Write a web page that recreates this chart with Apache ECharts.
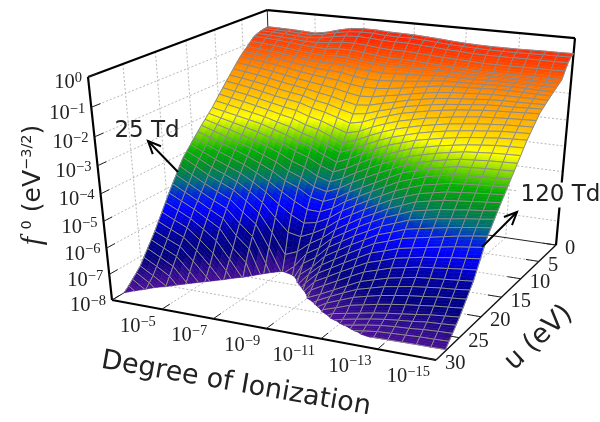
<!DOCTYPE html>
<html>
<head>
<meta charset="utf-8">
<style>html,body{margin:0;padding:0;background:#fff}#main{width:600px;height:422px}</style>
<script src="https://cdn.jsdelivr.net/npm/echarts@6/dist/echarts.min.js"></script>
</head>
<body>
<div id="main"></div>
<script>
// log10 of degree of ionization, one per mesh column
var ionExp = [-3,-3.5,-4,-4.5,-5,-5.5,-6,-6.5,-7,-7.5,-8,-8.5,-9,-9.5,-10,-10.5,-11,-11.5,-12,-12.5,-13,-13.5,-14,-14.5,-15];
// u in eV, one per mesh row
var uVals = [0,.7,1.4,2.1,2.8,3.5,4.2,4.9,5.6,6.3,7,7.7,8.4,9.1,9.8,10.5,11.2,11.9,12.6,13.3,14,14.7,15.4,16.1,16.8,17.5,18.2,18.9,19.6,20.3,21,21.7,22.4,23.1,23.8,24.5,25.2,25.9,26.6,27.3,28];
// log10 f0, row = u, column = ionization (below -8 is cut by the floor)
var logF = [
[-.64,-.65,-.66,-.68,-.71,-.63,-.50,-.40,-.37,-.37,-.40,-.41,-.42,-.45,-.48,-.52,-.55,-.57,-.58,-.58,-.58,-.57,-.56,-.56,-.55],
[-.66,-.67,-.68,-.70,-.72,-.66,-.55,-.47,-.44,-.44,-.48,-.49,-.49,-.52,-.55,-.59,-.61,-.63,-.65,-.65,-.65,-.64,-.63,-.63,-.62],
[-.69,-.70,-.72,-.75,-.78,-.74,-.65,-.58,-.55,-.57,-.61,-.62,-.62,-.65,-.68,-.72,-.74,-.77,-.78,-.78,-.78,-.77,-.77,-.77,-.76],
[-.74,-.76,-.78,-.82,-.86,-.86,-.82,-.76,-.75,-.78,-.83,-.86,-.86,-.89,-.92,-.95,-.97,-.99,-1.02,-1.02,-1.02,-1.01,-1.01,-1.01,-1.00],
[-.80,-.82,-.85,-.90,-.95,-.98,-1.00,-.95,-.95,-1.00,-1.05,-1.10,-1.10,-1.12,-1.15,-1.18,-1.20,-1.22,-1.25,-1.25,-1.25,-1.25,-1.25,-1.25,-1.25],
[-.94,-.96,-1.00,-1.05,-1.11,-1.15,-1.19,-1.16,-1.17,-1.24,-1.28,-1.32,-1.31,-1.31,-1.31,-1.31,-1.31,-1.32,-1.33,-1.33,-1.32,-1.32,-1.32,-1.33,-1.33],
[-1.08,-1.11,-1.15,-1.21,-1.28,-1.33,-1.38,-1.38,-1.40,-1.48,-1.52,-1.55,-1.52,-1.50,-1.48,-1.45,-1.42,-1.42,-1.42,-1.41,-1.40,-1.40,-1.40,-1.41,-1.41],
[-1.21,-1.25,-1.30,-1.36,-1.44,-1.50,-1.56,-1.59,-1.62,-1.71,-1.76,-1.77,-1.73,-1.69,-1.64,-1.58,-1.53,-1.52,-1.51,-1.50,-1.48,-1.48,-1.48,-1.49,-1.50],
[-1.35,-1.40,-1.45,-1.52,-1.60,-1.68,-1.75,-1.80,-1.85,-1.95,-2.00,-2.00,-1.95,-1.88,-1.80,-1.72,-1.65,-1.62,-1.60,-1.58,-1.55,-1.55,-1.56,-1.57,-1.58],
[-1.52,-1.58,-1.64,-1.71,-1.80,-1.88,-1.95,-2.02,-2.09,-2.20,-2.28,-2.25,-2.16,-2.08,-1.98,-1.89,-1.82,-1.77,-1.74,-1.71,-1.68,-1.67,-1.67,-1.67,-1.67],
[-1.70,-1.76,-1.83,-1.91,-2.00,-2.08,-2.15,-2.25,-2.33,-2.45,-2.55,-2.50,-2.38,-2.27,-2.15,-2.06,-1.98,-1.92,-1.88,-1.84,-1.80,-1.78,-1.78,-1.77,-1.76],
[-1.88,-1.94,-2.02,-2.10,-2.20,-2.28,-2.35,-2.48,-2.56,-2.70,-2.82,-2.75,-2.59,-2.46,-2.32,-2.23,-2.14,-2.07,-2.02,-1.97,-1.92,-1.90,-1.89,-1.87,-1.85],
[-2.05,-2.12,-2.20,-2.30,-2.40,-2.48,-2.55,-2.70,-2.80,-2.95,-3.10,-3.00,-2.80,-2.65,-2.50,-2.40,-2.30,-2.22,-2.15,-2.10,-2.05,-2.02,-2.00,-1.97,-1.95],
[-2.24,-2.32,-2.40,-2.50,-2.60,-2.70,-2.78,-2.95,-3.06,-3.24,-3.40,-3.28,-3.06,-2.88,-2.72,-2.61,-2.50,-2.42,-2.34,-2.28,-2.22,-2.19,-2.16,-2.14,-2.12],
[-2.42,-2.51,-2.60,-2.70,-2.80,-2.92,-3.02,-3.20,-3.32,-3.52,-3.70,-3.55,-3.32,-3.12,-2.95,-2.82,-2.70,-2.61,-2.52,-2.46,-2.40,-2.36,-2.32,-2.30,-2.28],
[-2.61,-2.70,-2.80,-2.90,-3.00,-3.14,-3.26,-3.45,-3.58,-3.81,-4.00,-3.82,-3.58,-3.36,-3.18,-3.04,-2.90,-2.80,-2.71,-2.64,-2.58,-2.53,-2.48,-2.46,-2.44],
[-2.80,-2.90,-3.00,-3.10,-3.20,-3.35,-3.50,-3.70,-3.85,-4.10,-4.30,-4.10,-3.85,-3.60,-3.40,-3.25,-3.10,-3.00,-2.90,-2.82,-2.75,-2.70,-2.65,-2.62,-2.60],
[-2.96,-3.08,-3.20,-3.32,-3.44,-3.60,-3.78,-4.00,-4.16,-4.42,-4.60,-4.40,-4.14,-3.89,-3.68,-3.50,-3.32,-3.21,-3.10,-3.02,-2.94,-2.89,-2.84,-2.82,-2.80],
[-3.12,-3.26,-3.40,-3.54,-3.68,-3.86,-4.05,-4.30,-4.48,-4.75,-4.90,-4.70,-4.42,-4.18,-3.95,-3.75,-3.55,-3.42,-3.30,-3.21,-3.12,-3.08,-3.04,-3.02,-3.00],
[-3.28,-3.44,-3.60,-3.76,-3.92,-4.12,-4.32,-4.60,-4.79,-5.08,-5.20,-5.00,-4.71,-4.46,-4.22,-4.00,-3.78,-3.64,-3.50,-3.40,-3.31,-3.28,-3.24,-3.22,-3.20],
[-3.45,-3.62,-3.80,-3.97,-4.15,-4.37,-4.60,-4.90,-5.10,-5.40,-5.50,-5.30,-5.00,-4.75,-4.50,-4.25,-4.00,-3.85,-3.70,-3.60,-3.50,-3.47,-3.44,-3.42,-3.40],
[-3.62,-3.82,-4.02,-4.21,-4.40,-4.65,-4.92,-5.25,-5.55,-5.80,-5.82,-5.60,-5.27,-5.01,-4.75,-4.50,-4.25,-4.08,-3.92,-3.82,-3.72,-3.69,-3.65,-3.63,-3.60],
[-3.80,-4.02,-4.25,-4.45,-4.65,-4.93,-5.25,-5.65,-6.00,-6.25,-6.15,-5.90,-5.55,-5.27,-5.00,-4.75,-4.50,-4.32,-4.15,-4.05,-3.95,-3.91,-3.87,-3.84,-3.80],
[-3.98,-4.22,-4.48,-4.68,-4.90,-5.21,-5.57,-6.10,-6.60,-6.70,-6.48,-6.20,-5.82,-5.53,-5.25,-5.00,-4.75,-4.56,-4.38,-4.28,-4.18,-4.13,-4.08,-4.04,-4.00],
[-4.15,-4.42,-4.70,-4.92,-5.15,-5.50,-5.90,-6.60,-7.40,-7.20,-6.80,-6.50,-6.10,-5.80,-5.50,-5.25,-5.00,-4.80,-4.60,-4.50,-4.40,-4.35,-4.30,-4.25,-4.20],
[-4.40,-4.68,-4.95,-5.19,-5.42,-5.85,-6.25,-7.10,-8.10,-7.70,-7.10,-6.80,-6.35,-6.05,-5.75,-5.49,-5.24,-5.05,-4.85,-4.75,-4.65,-4.59,-4.52,-4.47,-4.41],
[-4.67,-4.93,-5.20,-5.46,-5.70,-6.20,-6.65,-7.65,-8.80,-8.25,-7.40,-7.08,-6.60,-6.30,-6.00,-5.74,-5.48,-5.29,-5.10,-5.00,-4.90,-4.83,-4.75,-4.69,-4.62],
[-4.93,-5.19,-5.45,-5.73,-6.00,-6.60,-7.05,-8.20,-9.40,-8.80,-7.75,-7.36,-6.85,-6.55,-6.25,-5.98,-5.71,-5.54,-5.35,-5.25,-5.15,-5.06,-4.98,-4.90,-4.84],
[-5.20,-5.45,-5.70,-6.00,-6.30,-7.00,-7.50,-8.70,-9.50,-9.30,-8.10,-7.55,-7.10,-6.80,-6.50,-6.22,-5.95,-5.78,-5.60,-5.50,-5.40,-5.30,-5.20,-5.12,-5.05],
[-5.49,-5.73,-5.98,-6.32,-6.70,-7.35,-8.05,-9.20,-9.50,-9.50,-8.45,-7.80,-7.32,-7.04,-6.75,-6.48,-6.21,-6.05,-5.88,-5.78,-5.68,-5.59,-5.50,-5.43,-5.36],
[-5.78,-6.02,-6.25,-6.65,-7.10,-7.72,-8.50,-9.50,-9.50,-9.50,-8.80,-8.10,-7.55,-7.28,-7.00,-6.74,-6.48,-6.32,-6.15,-6.05,-5.95,-5.88,-5.80,-5.74,-5.68],
[-6.06,-6.30,-6.53,-6.97,-7.50,-8.10,-8.90,-9.50,-9.50,-9.50,-9.15,-8.40,-7.78,-7.51,-7.25,-6.99,-6.74,-6.58,-6.42,-6.32,-6.22,-6.16,-6.10,-6.04,-5.99],
[-6.35,-6.58,-6.80,-7.30,-7.85,-8.45,-9.30,-9.50,-9.50,-9.50,-9.50,-8.70,-7.98,-7.75,-7.50,-7.25,-7.00,-6.85,-6.70,-6.60,-6.50,-6.45,-6.40,-6.35,-6.30],
[-6.60,-6.85,-7.10,-7.62,-8.20,-8.80,-9.50,-9.50,-9.50,-9.50,-9.50,-9.00,-8.25,-7.90,-7.65,-7.42,-7.20,-7.06,-6.92,-6.83,-6.74,-6.68,-6.62,-6.58,-6.52],
[-6.85,-7.12,-7.39,-7.95,-8.55,-9.10,-9.50,-9.50,-9.50,-9.50,-9.50,-9.50,-8.55,-8.10,-7.80,-7.60,-7.40,-7.27,-7.15,-7.06,-6.98,-6.92,-6.85,-6.80,-6.75],
[-7.10,-7.38,-7.69,-8.28,-8.90,-9.50,-9.50,-9.50,-9.50,-9.50,-9.50,-9.50,-8.85,-8.35,-7.95,-7.78,-7.60,-7.49,-7.38,-7.29,-7.21,-7.15,-7.08,-7.03,-6.98],
[-7.35,-7.65,-7.98,-8.60,-9.20,-9.50,-9.50,-9.50,-9.50,-9.50,-9.50,-9.50,-9.15,-8.60,-8.15,-7.90,-7.80,-7.70,-7.60,-7.52,-7.45,-7.38,-7.30,-7.25,-7.20],
[-7.52,-7.84,-8.28,-8.90,-9.50,-9.50,-9.50,-9.50,-9.50,-9.50,-9.50,-9.50,-9.50,-8.90,-8.40,-8.05,-7.92,-7.82,-7.72,-7.64,-7.58,-7.53,-7.46,-7.43,-7.39],
[-7.68,-8.02,-8.58,-9.20,-9.50,-9.50,-9.50,-9.50,-9.50,-9.50,-9.50,-9.50,-9.50,-9.20,-8.65,-8.25,-8.03,-7.94,-7.84,-7.76,-7.71,-7.68,-7.63,-7.60,-7.58],
[-7.84,-8.20,-8.88,-9.50,-9.50,-9.50,-9.50,-9.50,-9.50,-9.50,-9.50,-9.50,-9.50,-9.50,-8.90,-8.45,-8.20,-8.03,-7.95,-7.88,-7.85,-7.82,-7.79,-7.78,-7.76],
[-7.98,-8.40,-9.18,-9.50,-9.50,-9.50,-9.50,-9.50,-9.50,-9.50,-9.50,-9.50,-9.50,-9.50,-9.15,-8.65,-8.40,-8.20,-8.03,-7.99,-7.98,-7.97,-7.96,-7.96,-7.95]
];
// tick labels
var ionTicks = [-5,-7,-9,-11,-13,-15];
var uTicks = [0,5,10,15,20,25,30];
var fTicks = [0,-1,-2,-3,-4,-5,-6,-7,-8];
// colour ramp against log10 f0
var colorLevels = [-8,-7.6,-7.1,-6.5,-5.7,-5.3,-4.9,-4.4,-4,-3.5,-3.05,-2.4,-1.7,-1.1,-.5];
var colorStops = ['#4b0f96','#2a0a8c','#00007f','#000098','#0000ff','#0020e0','#006a80','#009020','#00b000','#80d800','#ffff00','#ffc000','#ff9000','#ff5000','#ff2000'];

var ionMin = -3, ionMax = -15, uMin = 30, uMax = 0, fMin = -8, fMax = 0;
// box corners on the page and perspective weights of the 3 axes
var cornerA = [112,300], cornerB = [436,360], cornerG = [273.6,203.3], cornerT = [88,77];
var wx = .909, wy = 1.186, wz = .908;

function project(ion, u, f) {
  var x = (ion - ionMin) / (ionMax - ionMin), y = (u - uMin) / (uMax - uMin), z = (f - fMin) / (fMax - fMin);
  var w = 1 + (wx - 1) * x + (wy - 1) * y + (wz - 1) * z;
  return [0,1].map(function (i) {
    return (cornerA[i] + x * (wx * cornerB[i] - cornerA[i]) + y * (wy * cornerG[i] - cornerA[i]) + z * (wz * cornerT[i] - cornerA[i])) / w;
  });
}
function colorAt(f) {
  if (f <= colorLevels[0]) return colorStops[0];
  for (var i = 1; i < colorLevels.length; i++) {
    if (f <= colorLevels[i]) {
      return echarts.color.lerp((f - colorLevels[i-1]) / (colorLevels[i] - colorLevels[i-1]), [colorStops[i-1], colorStops[i]]);
    }
  }
  return colorStops[colorStops.length - 1];
}
function cut(a, b) {
  var t = (fMin - a[2]) / (b[2] - a[2]);
  return [a[0] + t * (b[0] - a[0]), a[1] + t * (b[1] - a[1]), fMin];
}
// cut a polygon at the floor
function clipPoly(pts) {
  var out = [];
  pts.forEach(function (a, i) {
    var b = pts[(i + 1) % pts.length];
    if (a[2] >= fMin) out.push(a);
    if ((a[2] >= fMin) !== (b[2] >= fMin)) out.push(cut(a, b));
  });
  return out;
}
function sample(c, r, s, t) {
  var f = (1-s)*(1-t)*logF[r][c] + s*(1-t)*logF[r][c+1] + (1-s)*t*logF[r+1][c] + s*t*logF[r+1][c+1];
  return [ionExp[c] + s * (ionExp[c+1] - ionExp[c]), uVals[r] + t * (uVals[r+1] - uVals[r]), f];
}

var gridLine = '#8c8c8c', SUBX = 2, SUBY = 3;

function renderCell(params, api) {
  var c = api.value(0), r = api.value(1), kids = [];
  function px(p) { return api.coord(project(p[0], p[1], p[2])); }
  for (var j = 0; j < SUBY; j++) {
    for (var i = 0; i < SUBX; i++) {
      var poly = clipPoly([sample(c,r,i/SUBX,j/SUBY), sample(c,r,(i+1)/SUBX,j/SUBY), sample(c,r,(i+1)/SUBX,(j+1)/SUBY), sample(c,r,i/SUBX,(j+1)/SUBY)]);
      if (poly.length < 3) continue;
      var sum = 0;
      poly.forEach(function (p) { sum += p[2]; });
      var col = colorAt(sum / poly.length);
      kids.push({type:'polygon', shape:{points:poly.map(px)}, style:{fill:col, stroke:col, lineWidth:.6}});
    }
  }
  var corners = [sample(c,r,0,0), sample(c,r,1,0), sample(c,r,1,1), sample(c,r,0,1)];
  corners.forEach(function (a, i) {
    var b = corners[(i + 1) % 4];
    if (a[2] < fMin && b[2] < fMin) return;
    if (a[2] < fMin) a = cut(a, b);
    else if (b[2] < fMin) b = cut(a, b);
    var p = px(a), q = px(b);
    kids.push({type:'line', shape:{x1:p[0], y1:p[1], x2:q[0], y2:q[1]}, style:{stroke:gridLine, lineWidth:1, fill:null}});
  });
  return {type:'group', children:kids};
}

function line3d(api, a, b, style) {
  var p = api.coord(project(a[0], a[1], a[2])), q = api.coord(project(b[0], b[1], b[2]));
  return {type:'line', shape:{x1:p[0], y1:p[1], x2:q[0], y2:q[1]}, style:style};
}
function renderBack(params, api) {
  var kids = [];
  var dot = {stroke:'#b8b8b8', lineWidth:1, lineDash:[2,2], fill:null};
  fTicks.forEach(function (f) {
    if (f !== fMax && f !== fMin) {
      kids.push(line3d(api, [ionMin,uMin,f], [ionMin,uMax,f], dot));
      kids.push(line3d(api, [ionMin,uMax,f], [ionMax,uMax,f], dot));
    }
  });
  uTicks.forEach(function (u) {
    if (u !== uMin && u !== uMax) {
      kids.push(line3d(api, [ionMin,u,fMax], [ionMin,u,fMin], dot));
      kids.push(line3d(api, [ionMin,u,fMin], [ionMax,u,fMin], dot));
    }
  });
  ionTicks.forEach(function (e) {
    if (e !== ionMax) {
      kids.push(line3d(api, [e,uMax,fMax], [e,uMax,fMin], dot));
      kids.push(line3d(api, [e,uMax,fMin], [e,uMin,fMin], dot));
    }
  });
  var thin = {stroke:'#222', lineWidth:1, fill:null}, thick = {stroke:'#000', lineWidth:2.2, fill:null};
  kids.push(line3d(api, [ionMin,uMin,fMin], [ionMin,uMax,fMin], thin));
  kids.push(line3d(api, [ionMin,uMax,fMin], [ionMax,uMax,fMin], thin));
  kids.push(line3d(api, [ionMin,uMax,fMin], [ionMin,uMax,fMax], thin));
  kids.push(line3d(api, [ionMin,uMin,fMax], [ionMin,uMax,fMax], thick));
  kids.push(line3d(api, [ionMin,uMax,fMax], [ionMax,uMax,fMax], thick));
  kids.push(line3d(api, [ionMax,uMax,fMax], [ionMax,uMax,fMin], thick));
  return {type:'group', children:kids};
}

var serif = '"Liberation Serif","Times New Roman",serif', sans = '"DejaVu Sans",sans-serif';
var powRich = {
  b:{fontFamily:serif, fontSize:20.5, fill:'#222', lineHeight:21},
  e:{fontFamily:serif, fontSize:14.5, fill:'#222', lineHeight:15, padding:[0,0,9,0]}
};
function powerLabel(api, anchor, dx, dy, exp, align) {
  var p = api.coord(anchor);
  var txt = String(exp).replace('-', '\u2212');
  return {type:'text', x:p[0]+dx, y:p[1]+dy, style:{text:'{b|10}{e|'+txt+'}', rich:powRich, align:align, verticalAlign:'middle'}};
}
function arrow(from, to) {
  var a = Math.atan2(to[1]-from[1], to[0]-from[0]), len = 14, spread = .42;
  var st = {stroke:'#000', lineWidth:2, fill:null};
  return [
    {type:'line', shape:{x1:from[0], y1:from[1], x2:to[0], y2:to[1]}, style:st},
    {type:'polyline', shape:{points:[
      [to[0]-len*Math.cos(a-spread), to[1]-len*Math.sin(a-spread)], to,
      [to[0]-len*Math.cos(a+spread), to[1]-len*Math.sin(a+spread)]]}, style:st}
  ];
}
function renderFront(params, api) {
  var kids = [];
  var thin = {stroke:'#222', lineWidth:1, fill:null}, thick = {stroke:'#000', lineWidth:2.2, fill:null};
  kids.push(line3d(api, [ionMin,uMin,fMin], [ionMin,uMin,fMax], thick));
  kids.push(line3d(api, [ionMin,uMin,fMin], [ionMax,uMin,fMin], thick));
  kids.push(line3d(api, [ionMax,uMin,fMin], [ionMax,uMax,fMin], {stroke:'#111', lineWidth:1.4, fill:null}));
  fTicks.forEach(function (f) {
    kids.push(line3d(api, [ionMin,uMin,f], [ionMin,uMin-1.3,f], thin));
    kids.push(powerLabel(api, project(ionMin,uMin,f), -6, 6, f, 'right'));
  });
  ionTicks.forEach(function (e) {
    kids.push(line3d(api, [e,uMin,fMin], [e,uMin-1.3,fMin], thin));
    kids.push(powerLabel(api, project(e,uMin,fMin), -6, 17, e, 'right'));
  });
  uTicks.forEach(function (u) {
    kids.push(line3d(api, [ionMax,u,fMin], [ionMax+.5,u,fMin], thin));
    var p = api.coord(project(ionMax,u,fMin));
    kids.push({type:'text', x:p[0]+9, y:p[1]+4, style:{text:String(u), fontFamily:serif, fontSize:20.5, fill:'#222', align:'left', verticalAlign:'middle'}});
  });
  // axis titles
  kids.push({type:'text', x:236, y:384, rotation:-.173, style:{text:'Degree of Ionization', fontFamily:sans, fontSize:27, fill:'#222', align:'center', verticalAlign:'middle'}});
  kids.push({type:'text', x:539, y:338, rotation:.75, style:{text:'u (eV)', fontFamily:sans, fontSize:27, fill:'#222', align:'center', verticalAlign:'middle'}});
  kids.push({type:'text', x:33, y:185, rotation:Math.PI/2, style:{
    text:'{f|f }{s|0}{t| (eV}{s|\u22123/2}{t|)}', align:'center', verticalAlign:'middle',
    rich:{
      f:{fontFamily:serif, fontStyle:'italic', fontSize:30, fill:'#222', lineHeight:30},
      t:{fontFamily:sans, fontSize:25, fill:'#222', lineHeight:30},
      s:{fontFamily:sans, fontSize:14.5, fill:'#222', lineHeight:15, padding:[0,0,12,0]}
    }}});
  // annotations
  kids = kids.concat(arrow([178,172],[148,141]), arrow([482,247],[517,212]));
  kids.push({type:'text', x:147, y:131, style:{text:'25 Td', fontFamily:sans, fontSize:23, fill:'#222', align:'center', verticalAlign:'middle'}});
  kids.push({type:'text', x:559, y:195, style:{text:'120 Td', fontFamily:sans, fontSize:23, fill:'#222', align:'center', verticalAlign:'middle', backgroundColor:'#fff', padding:[1,0,1,3]}});
  return {type:'group', children:kids};
}

var cells = [];
for (var r = 0; r < uVals.length - 1; r++) {
  for (var c = 0; c < ionExp.length - 1; c++) cells.push([c, r]);
}

var chart = echarts.init(document.getElementById('main'), null, {renderer:'canvas', width:600, height:422});
chart.setOption({
  animation:false,
  backgroundColor:'#fff',
  grid:{left:0, right:0, top:0, bottom:0},
  xAxis:{type:'value', min:0, max:600, show:false},
  yAxis:{type:'value', min:0, max:422, inverse:true, show:false},
  series:[
    {type:'custom', silent:true, renderItem:renderBack, data:[[0,0]], z:1},
    {type:'custom', silent:true, progressive:0, renderItem:renderCell, data:cells, z:2},
    {type:'custom', silent:true, renderItem:renderFront, data:[[0,0]], z:3}
  ]
});
</script>
</body>
</html>
